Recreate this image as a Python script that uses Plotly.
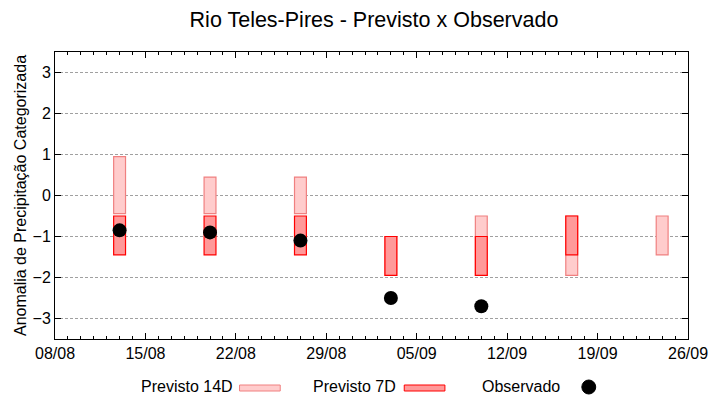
import plotly.graph_objects as go

# ---- data ----
dates = ["2024-08-13", "2024-08-20", "2024-08-27", "2024-09-03",
         "2024-09-10", "2024-09-17", "2024-09-24"]
prev14_low = [-0.44, -0.44, -0.44, -1.95, -1.95, -1.95, -1.45]
prev14_high = [0.95, 0.45, 0.45, -1.0, -0.5, -0.5, -0.5]
prev7_low = [-1.45, -1.45, -1.45, -1.95, -1.95, -1.45, None]
prev7_high = [-0.5, -0.5, -0.5, -1.0, -1.0, -0.5, None]
observado = [-0.85, -0.9, -1.1, -2.5, -2.7, None, None]

title_text = "Rio Teles-Pires - Previsto x Observado"
y_title = "Anomalia de Precipitação Categorizada"
legend_labels = ["Previsto 14D", "Previsto 7D", "Observado"]

DAY = 86400000
FONT = "Liberation Sans"
W, H = 720, 400
# plot area in page pixels: x 55..693, y 52..339
PL, PR, PT, PB = 55, 693, 52, 339
L, T, R, B = PL, PT, W - PR, H - PB


def diff(hi, lo):
    return [None if (h is None or l is None) else h - l for h, l in zip(hi, lo)]


fig = go.Figure()
fig.add_trace(go.Bar(
    x=dates, y=diff(prev14_high, prev14_low), base=prev14_low,
    width=[0.92 * DAY] * len(dates),
    marker=dict(color="#ffcccc", line=dict(color="#f08080", width=1.2)),
    name=legend_labels[0], showlegend=False))
fig.add_trace(go.Bar(
    x=dates, y=diff(prev7_high, prev7_low), base=prev7_low,
    width=[0.92 * DAY] * len(dates),
    marker=dict(color="#ff9999", line=dict(color="#ff0000", width=1.2)),
    name=legend_labels[1], showlegend=False))
fig.add_trace(go.Scatter(
    x=dates, y=observado, mode="markers",
    marker=dict(color="black", size=14),
    name=legend_labels[2], showlegend=False))

# ---- custom legend (gnuplot style: text then sample) ----
pw, ph = PR - PL, PB - PT


def px(x):  # page pixel -> paper
    return (x - PL) / pw


def py(y):
    return (PB - y) / ph


annotations = []
shapes = []
leg = [(236, 241, 282, "#ffcccc", "#f08080"),
       (401, 407, 448, "#ff9999", "#ff0000")]
for (tx, x0, x1, fc, lc), lab in zip(leg, legend_labels[:2]):
    annotations.append(dict(xref="paper", yref="paper", x=px(tx), y=py(386),
                            text=lab, showarrow=False, xanchor="right",
                            yanchor="middle", font=dict(family=FONT, size=16, color="black")))
    shapes.append(dict(type="rect", xref="paper", yref="paper",
                       x0=px(x0), x1=px(x1), y0=py(385), y1=py(391),
                       fillcolor=fc, line=dict(color=lc, width=1)))
annotations.append(dict(xref="paper", yref="paper", x=px(566), y=py(386),
                        text=legend_labels[2], showarrow=False, xanchor="right",
                        yanchor="middle", font=dict(family=FONT, size=16, color="black")))
shapes.append(dict(type="circle", xref="paper", yref="paper",
                   x0=px(586), x1=px(600), y0=py(380), y1=py(394),
                   fillcolor="black", line=dict(color="black", width=1)))

fig.update_layout(
    width=W, height=H,
    margin=dict(l=L, r=R, t=T, b=B),
    paper_bgcolor="white", plot_bgcolor="white",
    barmode="overlay",
    font=dict(family=FONT, size=16, color="black"),
    title=dict(text=title_text, x=(L + pw / 2) / W, xanchor="center",
               y=1 - 19 / H, yanchor="middle",
               font=dict(family=FONT, size=21.5, color="black")),
    annotations=annotations, shapes=shapes,
    xaxis=dict(type="date", range=["2024-08-08", "2024-09-26"],
               tick0="2024-08-08", dtick=7 * DAY, tickformat="%d/%m",
               ticks="inside", ticklen=6, tickcolor="black", tickwidth=1,
               ticklabeloverflow="allow",
               minor=dict(dtick=DAY, tick0="2024-08-08", ticks="inside",
                          ticklen=3, tickcolor="black", showgrid=False),
               showline=True, linecolor="black", linewidth=1, mirror="ticks",
               showgrid=False, zeroline=False, fixedrange=True,
               tickfont=dict(family=FONT, size=16, color="black")),
    yaxis=dict(range=[-3.5, 3.5], tick0=0, dtick=1,
               ticks="inside", ticklen=6, tickcolor="black", tickwidth=1,
               showline=True, linecolor="black", linewidth=1, mirror="ticks",
               showgrid=True, gridcolor="#a0a0a0", griddash="3px,2px", gridwidth=1,
               zeroline=False, fixedrange=True,
               title=dict(text=y_title, standoff=1,
                          font=dict(family=FONT, size=16, color="black")),
               tickfont=dict(family=FONT, size=16, color="black")),
)

fig.write_html("out.html", config={"displayModeBar": False},
               post_script="document.body.style.margin='0px';"
                           "document.body.style.overflow='hidden';")
